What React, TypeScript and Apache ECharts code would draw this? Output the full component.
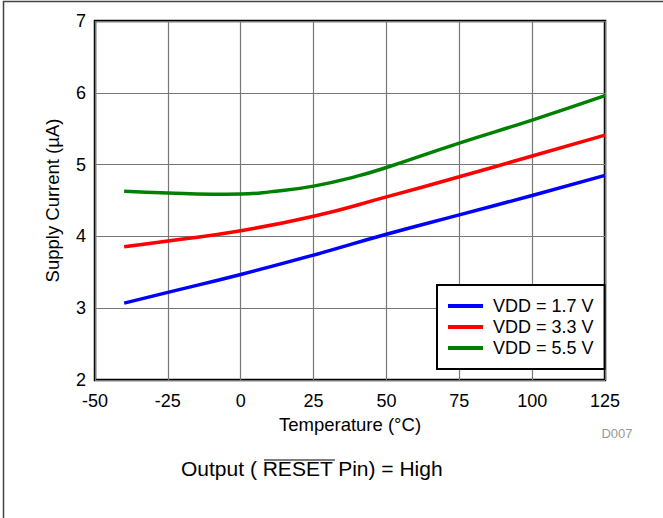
import React, { useEffect, useRef } from "react";
import * as echarts from "echarts";

const FONT = "'Liberation Sans', Arial, Helvetica, sans-serif";

const seriesNames = ["VDD = 1.7 V", "VDD = 3.3 V", "VDD = 5.5 V"];
const seriesColors = ["#0000FF", "#FF0000", "#008000"];

const tempBlue = [-40, -25, 0, 25, 50, 75, 100, 125];
const currBlue = [3.07, 3.22, 3.47, 3.74, 4.03, 4.3, 4.57, 4.85];

const tempRed = [-40, -25, 0, 25, 50, 75, 100, 125];
const currRed = [3.855, 3.935, 4.08, 4.28, 4.55, 4.83, 5.12, 5.41];

const tempGreen = [-40, -25, -10, 0, 10, 25, 40, 50, 75, 100, 125];
const currGreen = [4.63, 4.605, 4.588, 4.59, 4.62, 4.7, 4.84, 4.96, 5.3, 5.62, 5.96];

const xTicks = { min: -50, max: 125, interval: 25 };
const yTicks = { min: 2, max: 7, interval: 1 };

const xTitle = "Temperature (°C)";
const yTitle = "Supply Current (µA)";
const figId = "D007";

const zip = (xs: number[], ys: number[]) => xs.map((x, i) => [x, ys[i]]);

export default function App() {
  const ref = useRef<HTMLDivElement>(null);
  useEffect(() => {
    if (!ref.current) return;
    const chart = echarts.init(ref.current, undefined, { renderer: "svg" });
    const data = [zip(tempBlue, currBlue), zip(tempRed, currRed), zip(tempGreen, currGreen)];
    chart.setOption({
      animation: false,
      backgroundColor: "#fff",
      textStyle: { fontFamily: FONT },
      grid: {
        left: 95,
        right: 58,
        top: 21,
        bottom: 138,
        show: true,
        borderColor: "#000",
        borderWidth: 2.5,
        backgroundColor: "transparent",
      },
      xAxis: {
        type: "value",
        min: xTicks.min,
        max: xTicks.max,
        interval: xTicks.interval,
        name: xTitle,
        nameLocation: "middle",
        nameGap: 34,
        nameTextStyle: { fontSize: 18.5, color: "#000", fontFamily: FONT },
        axisLine: { show: false },
        axisTick: { show: false },
        axisLabel: { fontSize: 18, color: "#000", margin: 12, fontFamily: FONT },
        splitLine: { show: true, lineStyle: { color: "#777", width: 1.2 } },
      },
      yAxis: {
        type: "value",
        min: yTicks.min,
        max: yTicks.max,
        interval: yTicks.interval,
        name: yTitle,
        nameLocation: "middle",
        nameGap: 33,
        nameTextStyle: { fontSize: 18.5, color: "#000", fontFamily: FONT },
        axisLine: { show: false },
        axisTick: { show: false },
        axisLabel: { fontSize: 18, color: "#000", margin: 9, fontFamily: FONT },
        splitLine: { show: true, lineStyle: { color: "#777", width: 1.2 } },
      },
      legend: {
        orient: "vertical",
        left: 437,
        top: 285,
        backgroundColor: "#fff",
        borderColor: "#000",
        borderWidth: 2,
        borderRadius: 0,
        padding: [12, 11, 12, 11],
        itemWidth: 35,
        itemHeight: 4,
        itemGap: 3,
        icon: "rect",
        textStyle: { fontSize: 18, lineHeight: 18, color: "#000", fontFamily: FONT, padding: [0, 0, 0, 5] },
        data: seriesNames,
      },
      series: seriesNames.map((name, i) => ({
        name,
        type: "line",
        data: data[i],
        smooth: 0.5,
        showSymbol: false,
        symbol: "none",
        color: seriesColors[i],
        lineStyle: { color: seriesColors[i], width: 3.5 },
        z: 3,
      })),
      graphic: [
        {
          type: "rect",
          shape: { x: 3.5, y: 1.5, width: 720, height: 600 },
          style: { fill: "none", stroke: "#444", lineWidth: 1.5 },
          silent: true,
        },
        {
          type: "text",
          x: 617,
          y: 433,
          style: { text: figId, fontSize: 13, fill: "#999", align: "center", verticalAlign: "middle", fontFamily: FONT },
        },
        {
          type: "text",
          x: 181,
          y: 468,
          style: {
            text: "Output ( RESET Pin) = High",
            fontSize: 21,
            fill: "#000",
            align: "left",
            verticalAlign: "middle",
            fontFamily: FONT,
          },
        },
        {
          type: "line",
          shape: { x1: 264, y1: 460, x2: 335, y2: 460 },
          style: { stroke: "#000", lineWidth: 1.2 },
        },
      ],
    });
    return () => chart.dispose();
  }, []);
  return (
    <div
      ref={ref}
      style={{ position: "fixed", left: 0, top: 0, width: 663, height: 518 }}
    />
  );
}
